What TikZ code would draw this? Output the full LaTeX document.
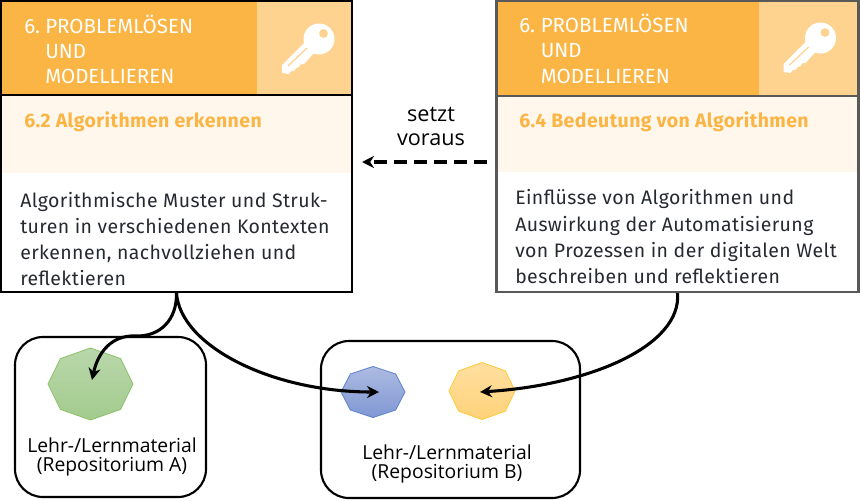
\documentclass[tikz,border=0pt]{standalone}
\usepackage{fontspec}
\setmainfont{Open Sans}
\newfontfamily\din{Fira Sans}
\usetikzlibrary{arrows.meta,calc}
\definecolor{headdark}{HTML}{FBB545}
\definecolor{headlight}{HTML}{FED28F}
\definecolor{band}{HTML}{FFF6EC}
\definecolor{bodytxt}{HTML}{262A30}
\definecolor{graybord}{HTML}{595959}
\tikzset{
  px/.style={x=0.75pt,y=-0.75pt},
  headtxt/.style={anchor=base west,inner sep=0pt,text=white,font=\din\fontsize{15.4pt}{16pt}\selectfont},
  subtxt/.style={anchor=base west,inner sep=0pt,text=headdark,font=\din\bfseries\fontsize{14.6pt}{16pt}\selectfont\addfontfeature{LetterSpace=2.2}},
  bodyt/.style={anchor=base west,inner sep=0pt,text=bodytxt,font=\din\fontsize{14.6pt}{16pt}\selectfont\addfontfeature{LetterSpace=2.1}},
  mattxt/.style={anchor=center,inner sep=0pt,text=black,font=\fontsize{14.5pt}{16pt}\selectfont},
  sidetxt/.style={anchor=center,inner sep=0pt,text=black,font=\fontsize{16.2pt}{18pt}\selectfont},
  repo/.style={draw=black,line width=1.6pt,rounded corners=21pt,fill=white,inner sep=0pt},
  frameb/.style={draw=black,line width=1.6pt,fill=none,inner sep=0pt},
  frameg/.style={draw=graybord,line width=1.6pt,fill=none,inner sep=0pt},
  conn/.style={draw=black,line width=2.3pt,-{Stealth[length=9pt,width=9pt]}},
  octgreen/.style={top color=green1,bottom color=green2,draw=green3,line width=0.6pt},
  octblue/.style={top color=blue1,bottom color=blue2,draw=blue3,line width=0.6pt},
  octorange/.style={top color=orange1,bottom color=orange2,draw=orange3,line width=0.6pt},
}
\definecolor{green1}{HTML}{B9D7AB}
\definecolor{green2}{HTML}{A3CB8D}
\definecolor{green3}{HTML}{8CC168}
\definecolor{blue1}{HTML}{AEBBE2}
\definecolor{blue2}{HTML}{7F97D3}
\definecolor{blue3}{HTML}{5B82D0}
\definecolor{orange1}{HTML}{FFDFA0}
\definecolor{orange2}{HTML}{FFD27A}
\definecolor{orange3}{HTML}{FFC933}
\newcommand{\octagon}[6]{% name, x, y, rx, ry, style
  \coordinate (#1) at (#2,#3);
  \path[#6]
    ($(#1)+(90:#4 and #5)$) -- ($(#1)+(45:#4 and #5)$) -- ($(#1)+(0:#4 and #5)$) -- ($(#1)+(-45:#4 and #5)$)
    -- ($(#1)+(-90:#4 and #5)$) -- ($(#1)+(-135:#4 and #5)$) -- ($(#1)+(180:#4 and #5)$) -- ($(#1)+(135:#4 and #5)$) -- cycle;
}
\newcommand{\keyicon}[2]{%
  \begin{scope}[shift={(#1,#2)}]
    \fill[white] (0,0) circle[radius=15.5];
    \fill[white] (-15,4) -- (-37,26) -- (-37,34) -- (-30,35) -- (-28,32) -- (-25,32) -- (-23,29) -- (-20,28) -- (-18,25) -- (-15,25) -- (-5,14) -- cycle;
    \fill[headlight] (4.5,-5.5) circle[radius=4.4];
    \draw[headlight,line width=0.9pt] (-31,27) -- (-12,9);
  \end{scope}
}
\begin{document}
\begin{tikzpicture}[px]
\useasboundingbox (0,0) rectangle (860,500);
% left card
\fill[headdark] (1,1) rectangle (257,95);
\fill[headlight] (257,1) rectangle (352,95);
\fill[band] (1,95) rectangle (352,173);
\keyicon{319}{39}
\node[frameb,minimum width=263pt,minimum height=218.25pt] (cardL) at (176.5,146.5) {};
\draw[black,line width=1.6pt] (cardL.west |- 0,95) -- (cardL.east |- 0,95);
\node[headtxt] (lnum) at (24,33) {6.};
\node[headtxt] (lh1) at (45,33) {PROBLEMLÖSEN};
\node[headtxt] (lh2) at (45,58) {UND};
\node[headtxt] (lh3) at (45,83) {MODELLIEREN};
\node[subtxt] (lsub) at (24,127) {6.2 Algorithmen erkennen};
\node[bodyt] (lb1) at (20,207) {Algorithmische Muster und Struk-};
\node[bodyt] (lb2) at (20,233) {turen in verschiedenen Kontexten};
\node[bodyt] (lb3) at (20,259) {erkennen, nachvollziehen und};
\node[bodyt] (lb4) at (20,285) {reflektieren};
% right card
\fill[headdark] (497,2) rectangle (759,95);
\fill[headlight] (759,2) rectangle (858,95);
\fill[band] (497,95) rectangle (858,172);
\keyicon{820.5}{38}
\node[frameg,minimum width=271.5pt,minimum height=218.25pt] (cardR) at (677.5,146.5) {};
\draw[graybord,line width=1.6pt] (cardR.west |- 0,96) -- (cardR.east |- 0,96);
\node[headtxt] (rnum) at (519,32) {6.};
\node[headtxt] (rh1) at (540.5,32) {PROBLEMLÖSEN};
\node[headtxt] (rh2) at (540.5,57) {UND};
\node[headtxt] (rh3) at (540.5,83) {MODELLIEREN};
\node[subtxt] (rsub) at (519,127) {6.4 Bedeutung von Algorithmen};
\node[bodyt] (rb1) at (515,204) {Einflüsse von Algorithmen und};
\node[bodyt] (rb2) at (515,231) {Auswirkung der Automatisierung};
\node[bodyt] (rb3) at (515,257) {von Prozessen in der digitalen Welt};
\node[bodyt] (rb4) at (515,283) {beschreiben und reflektieren};
% prerequisite arrow
\node[sidetxt] (s1) at (431,114) {setzt};
\node[sidetxt] (s2) at (431,140) {voraus};
\coordinate (dashR) at (487,162);
\coordinate (dashL) at (362,162);
\draw[black,line width=2.3pt,dash pattern=on 9.75pt off 5.25pt,-{Stealth[length=9pt,width=9pt]}] (dashR) -- (dashL);
% repositories
\node[repo,minimum width=143.25pt,minimum height=120pt] (repoA) at (110.5,417) {};
\node[repo,minimum width=194.25pt,minimum height=117.75pt] (repoB) at (450.5,419.5) {};
\octagon{octG}{90.5}{384}{42.5}{36}{octgreen}
\octagon{octB}{373}{392}{32}{25.5}{octblue}
\octagon{octO}{482}{391}{33}{28.5}{octorange}
\node[mattxt] (ma1) at (112,445) {Lehr-/Lernmaterial};
\node[mattxt] (ma2) at (112,467) {(Repositorium A)};
\node[mattxt] (mb1) at (447,452) {Lehr-/Lernmaterial};
\node[mattxt] (mb2) at (447,474) {(Repositorium B)};
% connectors
\coordinate (tipA) at (92,380);
\coordinate (tipB) at (379,392);
\coordinate (tipO) at (480,392);
\draw[conn] (cardL.south) .. controls (177,320) and (160,337) .. (135,336) .. controls (112,335) and (98,352) .. (tipA);
\draw[conn] (cardL.south) .. controls (180,345) and (270,392) .. (tipB);
\draw[conn] (cardR.south) .. controls (682,345) and (592,385) .. (tipO);
\end{tikzpicture}
\end{document}
